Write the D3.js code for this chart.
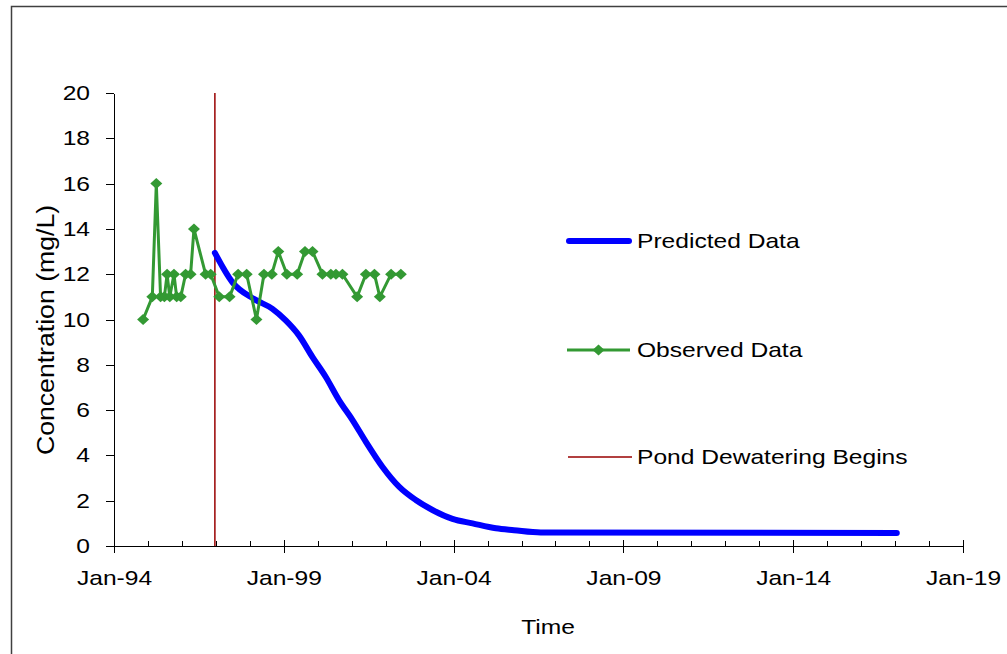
<!DOCTYPE html>
<html>
<head>
<meta charset="utf-8">
<script src="https://cdn.jsdelivr.net/npm/d3@7"></script>
<style>
  body { margin: 0; background: #fff; }
  svg { display: block; font-family: "Liberation Sans", Arial, sans-serif; }
  .axis path, .axis line { stroke: #000; stroke-width: 1; shape-rendering: crispEdges; }
  .axis text { font-size: 20.5px; fill: #000; font-family: "Liberation Sans", Arial, sans-serif; }
</style>
</head>
<body>
<svg id="chart" width="1007" height="654"></svg>
<script>
// observed concentrations (mg/L)
const obsDates = ["1994-11-10","1995-02-17","1995-04-01","1995-05-17","1995-06-27","1995-07-26",
  "1995-08-24","1995-10-08","1995-11-06","1995-12-20","1996-02-10","1996-04-04","1996-05-10",
  "1996-09-12","1996-11-06","1997-02-06","1997-05-28","1997-08-28","1997-11-28","1998-03-13",
  "1998-06-02","1998-08-25","1998-11-03","1999-02-03","1999-05-25","1999-08-17","1999-11-06",
  "2000-02-21","2000-05-21","2000-07-15","2000-09-23","2001-02-28","2001-06-02","2001-09-02",
  "2001-10-30","2002-02-28","2002-06-13"];
const obsValues = [10,11,16,11,11,12,11,12,11,11,12,12,14,
  12,12,11,11,12,12,10,
  12,12,13,12,12,13,13,
  12,12,12,12,11,12,12,
  11,12,12];

// predicted concentrations (mg/L)
const predDates = ["1996-12-21","1997-06-28","1998-02-17","1998-09-01","1999-01-22","1999-06-13",
  "1999-11-06","2000-03-28","2000-08-18","2001-01-11","2001-06-02","2001-11-28","2002-05-27",
  "2002-11-21","2003-05-19","2003-12-20","2004-07-23","2005-04-01","2005-10-12","2006-07-26",
  "2017-01-19"];
const predValues = [12.94,11.64,10.9,10.47,9.96,9.3,
  8.34,7.46,6.43,5.55,4.6,3.49,2.61,
  2.03,1.59,1.2,1.0,0.78,0.70,0.60,
  0.57];

const dewaterDate = "1996-12-21";

const xTickDates = ["1994-01-01","1999-01-01","2004-01-01","2009-01-01","2014-01-01","2019-01-01"];
const xTickLabels = ["Jan-94","Jan-99","Jan-04","Jan-09","Jan-14","Jan-19"];
const yTicks = [0,2,4,6,8,10,12,14,16,18,20];

const legendLabels = ["Predicted Data","Observed Data","Pond Dewatering Begins"];

const parse = d3.timeParse("%Y-%m-%d");
const stretch = 1.2; // text in the picture is drawn wide

const svg = d3.select("#chart");

// outer frame
svg.append("rect")
    .attr("x", 11.5).attr("y", 6.5)
    .attr("width", 1010).attr("height", 670)
    .attr("fill", "none")
    .attr("stroke", "#404040")
    .attr("stroke-width", 1.5);

const x = d3.scaleTime()
    .domain([parse(xTickDates[0]), parse(xTickDates[xTickDates.length - 1])])
    .range([114, 963]);
const y = d3.scaleLinear().domain([0, 20]).range([546, 93]);

// minor ticks, one per year, pointing up
const minorDates = d3.timeYear.range(x.domain()[0], x.domain()[1]);
svg.append("g")
    .attr("class", "axis")
    .attr("transform", "translate(0,546)")
    .call(d3.axisBottom(x).tickValues(minorDates).tickSizeInner(-5).tickSizeOuter(0).tickFormat(""))
    .call(g => g.select(".domain").remove());

// major ticks cross the axis
const xAxis = svg.append("g")
    .attr("class", "axis")
    .attr("transform", "translate(0,546)")
    .call(d3.axisBottom(x)
        .tickValues(xTickDates.map(parse))
        .tickSizeOuter(0)
        .tickFormat((d, i) => xTickLabels[i]));
xAxis.selectAll(".tick line").attr("y1", -6).attr("y2", 7);
xAxis.selectAll(".tick text")
    .attr("y", 24)
    .attr("transform", `scale(${stretch},1)`);

const yAxis = svg.append("g")
    .attr("class", "axis")
    .attr("transform", "translate(114,0)")
    .call(d3.axisLeft(y).tickValues(yTicks).tickSize(8).tickSizeOuter(0));
yAxis.selectAll(".tick text")
    .attr("x", -24 / stretch)
    .attr("transform", `scale(${stretch},1)`);

// axis titles
svg.append("text")
    .attr("transform", `translate(548,634) scale(${stretch},1)`)
    .attr("text-anchor", "middle")
    .style("font-size", "20.5px")
    .text("Time");

svg.append("text")
    .attr("transform", "translate(54,330) rotate(-90) scale(1.3,1.15)")
    .attr("text-anchor", "middle")
    .style("font-size", "20.5px")
    .text("Concentration (mg/L)");

// pond dewatering line
svg.append("line")
    .attr("x1", x(parse(dewaterDate))).attr("x2", x(parse(dewaterDate)))
    .attr("y1", y(20)).attr("y2", y(0))
    .attr("stroke", "#990000")
    .attr("stroke-width", 1.5);

// predicted series
const predData = predDates.map((d, i) => ({date: parse(d), value: predValues[i]}));
svg.append("path")
    .datum(predData)
    .attr("fill", "none")
    .attr("stroke", "#0000ff")
    .attr("stroke-width", 6)
    .attr("stroke-linecap", "round")
    .attr("stroke-linejoin", "round")
    .attr("d", d3.line().curve(d3.curveMonotoneX).x(d => x(d.date)).y(d => y(d.value)));

// observed series
const obsData = obsDates.map((d, i) => ({date: parse(d), value: obsValues[i]}));
const green = "#339933";
const diamond = "M0,-5.5L6,0L0,5.5L-6,0Z";
svg.append("path")
    .datum(obsData)
    .attr("fill", "none")
    .attr("stroke", green)
    .attr("stroke-width", 3)
    .attr("stroke-linejoin", "round")
    .attr("d", d3.line().x(d => x(d.date)).y(d => y(d.value)));

svg.selectAll(".obs")
    .data(obsData)
    .enter().append("path")
    .attr("class", "obs")
    .attr("d", diamond)
    .attr("fill", green)
    .attr("transform", d => `translate(${x(d.date)},${y(d.value)})`);

// legend
const legendY = [241, 350, 457];
const lg = svg.append("g");

lg.append("line")
    .attr("x1", 569).attr("x2", 629)
    .attr("y1", legendY[0]).attr("y2", legendY[0])
    .attr("stroke", "#0000ff").attr("stroke-width", 6)
    .attr("stroke-linecap", "round");

lg.append("line")
    .attr("x1", 567).attr("x2", 630)
    .attr("y1", legendY[1]).attr("y2", legendY[1])
    .attr("stroke", green).attr("stroke-width", 3);
lg.append("path")
    .attr("d", diamond)
    .attr("fill", green)
    .attr("transform", `translate(598.5,${legendY[1]})`);

lg.append("line")
    .attr("x1", 568).attr("x2", 632)
    .attr("y1", legendY[2]).attr("y2", legendY[2])
    .attr("stroke", "#990000").attr("stroke-width", 1.5);

lg.selectAll(".legend-text")
    .data(legendLabels)
    .enter().append("text")
    .attr("class", "legend-text")
    .attr("transform", (d, i) => `translate(637,${legendY[i] + 7.3}) scale(${stretch},1)`)
    .style("font-size", "20.5px")
    .text(d => d);
</script>
</body>
</html>
